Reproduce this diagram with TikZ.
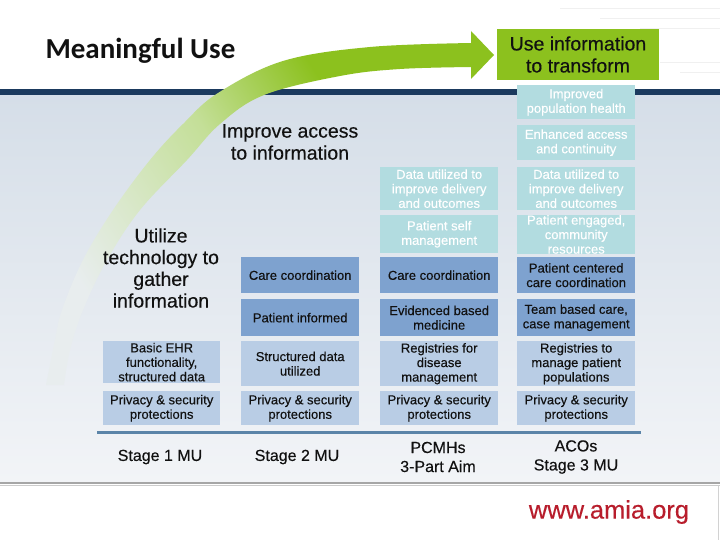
\documentclass[tikz,border=0pt]{standalone}
\usepackage{fontspec}
\setmainfont{Liberation Sans}
\newfontfamily\carlito{Carlito}
\newfontfamily\heavy[FakeBold=0.3]{Liberation Sans}
\definecolor{mugreen}{HTML}{8CC11E}
\definecolor{fadegreen}{HTML}{E8EDEE}
\definecolor{lowgreen}{HTML}{DAE8CC}
\definecolor{midgreen}{HTML}{C4DF98}
\definecolor{navy}{HTML}{1B3A5E}
\definecolor{tealc}{HTML}{B2DCE0}
\definecolor{darkc}{HTML}{7EA2CF}
\definecolor{lightc}{HTML}{B9CDE5}
\definecolor{textc}{HTML}{111111}
\definecolor{bgtop}{HTML}{D5DEE8}
\definecolor{bgbot}{HTML}{F2F4F7}
\definecolor{lineblue}{HTML}{5B84A8}
\definecolor{amiared}{HTML}{B81D2C}
\pgfdeclarehorizontalshading{arcshade}{100bp}{color(0bp)=(fadegreen); color(26bp)=(fadegreen); color(36bp)=(lowgreen); color(50bp)=(midgreen); color(66bp)=(mugreen); color(100bp)=(mugreen)}
\tikzset{
  cell/.style={inner sep=0pt, minimum width=118pt, align=center,
    font=\heavy\fontsize{13}{14.5}\selectfont, anchor=north west},
  tealbox/.style={cell, fill=tealc, text=white},
  darkbox/.style={cell, fill=darkc, text=textc},
  lightbox/.style={cell, fill=lightc, text=textc},
  bigtext/.style={align=center, text=textc, font=\heavy\fontsize{19.5}{22}\selectfont},
  stagetext/.style={align=center, text=textc, font=\heavy\fontsize{16}{19}\selectfont},
}
\begin{document}
\begin{tikzpicture}[x=1pt,y=-1pt]
\useasboundingbox (0,0) rectangle (720,540);
\fill[white] (0,0) rectangle (720,540);
% faint background lines top right
\begin{scope}[gray!12, line width=0.8pt]
  \draw (560,8) -- (720,8);
  \draw (600,18) -- (720,18);
  \draw (640,28) -- (720,28);
  \draw (660,62) -- (720,62);
  \draw (680,72) -- (720,72);
\end{scope}
% background gradient
\shade[top color=bgtop, bottom color=bgbot] (0,95) rectangle (720,482);
% navy band
\fill[navy] (0,89) rectangle (720,95);
% green curved arrow
\shade[shading=arcshade, shading angle=33]
  plot[smooth, tension=0.6] coordinates {(46,385) (55,340) (62,310) (83,260) (113,210) (150,160) (183,124) (218,93) (283,61) (370,47) (472,43)}
  -- plot[smooth, tension=0.6] coordinates {(472,67) (400,69) (340,76) (264,95) (220,124) (187,160) (140,210) (107,260) (83,310) (70,350) (64,385)}
  -- cycle;
\fill[mugreen] (471,31) -- (494,55) -- (471,79) -- cycle;
% title
\node[anchor=west, text=textc, font=\carlito\bfseries\fontsize{29}{31}\selectfont] (title) at (42,51) {Meaningful Use};
\node[fill=mugreen, minimum width=162pt, minimum height=51pt, inner sep=0pt, bigtext] (use) at (578,54.5) {Use information\\to transform};
\node[bigtext] (access) at (290,142) {Improve access\\to information};
\node[bigtext, font=\heavy\fontsize{19.5}{21.7}\selectfont] (utilize) at (161,268) {Utilize\\technology to\\gather\\information};
% column 4
\node[tealbox, minimum height=34pt] (d1) at (517,85) {Improved\\population health};
\node[tealbox, minimum height=35pt] (d2) at (517,125) {Enhanced access\\and continuity};
\node[tealbox, minimum height=43pt] (d3) at (517,167) {Data utilized to\\improve delivery\\and outcomes};
\node[tealbox, minimum height=38pt] (d4) at (517,215) {Patient engaged,\\community\\resources};
\node[darkbox, minimum height=36pt] (d5) at (517,257) {Patient centered\\care coordination};
\node[darkbox, minimum height=37pt] (d6) at (517,299) {Team based care,\\case management};
\node[lightbox, minimum height=45pt] (d7) at (517,341) {Registries to\\manage patient\\populations};
\node[lightbox, minimum height=34pt] (d8) at (517,391) {Privacy \& security\\protections};
% column 3
\node[tealbox, minimum height=43pt] (c3) at (380,167) {Data utilized to\\improve delivery\\and outcomes};
\node[tealbox, minimum height=38pt] (c4) at (380,215) {Patient self\\management};
\node[darkbox, minimum height=36pt] (c5) at (380,257) {Care coordination};
\node[darkbox, minimum height=37pt] (c6) at (380,299) {Evidenced based\\medicine};
\node[lightbox, minimum height=45pt] (c7) at (380,341) {Registries for\\disease\\management};
\node[lightbox, minimum height=34pt] (c8) at (380,391) {Privacy \& security\\protections};
% column 2
\node[darkbox, minimum height=36pt] (b5) at (241,257) {Care coordination};
\node[darkbox, minimum height=37pt] (b6) at (241,299) {Patient informed};
\node[lightbox, minimum height=45pt] (b7) at (241,341) {Structured data\\utilized};
\node[lightbox, minimum height=34pt] (b8) at (241,391) {Privacy \& security\\protections};
% column 1
\node[lightbox, minimum width=117pt, minimum height=42pt] (a7) at (103,341) {Basic EHR\\functionality,\\structured data};
\node[lightbox, minimum width=117pt, minimum height=34pt] (a8) at (103,391) {Privacy \& security\\protections};
% baseline
\coordinate (bl) at (97,432);
\coordinate (br) at (641,432);
\draw[lineblue, line width=3pt] (bl) -- (br);
% stage labels
\node[stagetext] (s1) at (160,457) {Stage 1 MU};
\node[stagetext] (s2) at (297,457) {Stage 2 MU};
\node[stagetext] (s3) at (438,457) {PCMHs\\3-Part Aim};
\node[stagetext] (s4) at (576,457) {ACOs\\Stage 3 MU};
% bottom area
\fill[white] (0,483) rectangle (720,540);
\draw[gray!70, line width=2pt] (0,483) -- (720,483);
\draw[gray!40, line width=1pt] (0,485.5) -- (720,485.5);
\draw[gray!35, line width=1pt] (718,486) -- (718,540);
\node[text=amiared, font=\heavy\fontsize{25.5}{28}\selectfont] (url) at (609,512) {www.amia.org};
\end{tikzpicture}
\end{document}
